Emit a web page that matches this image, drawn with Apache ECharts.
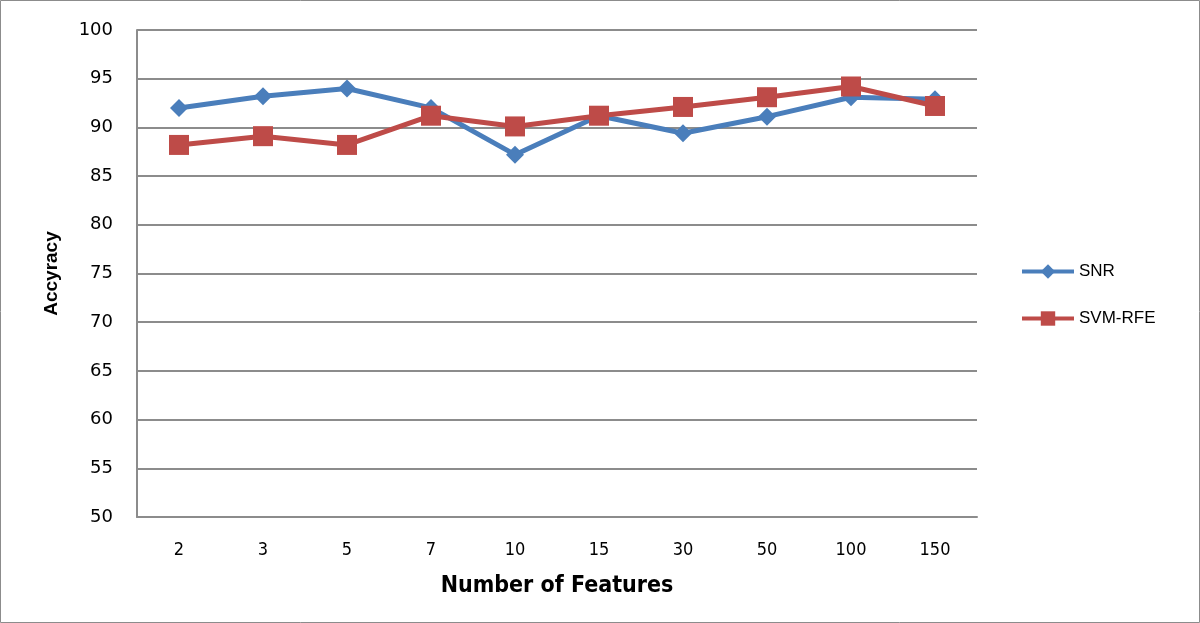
<!DOCTYPE html>
<html><head><meta charset="utf-8">
<script src="https://cdn.jsdelivr.net/npm/echarts@6/dist/echarts.min.js"></script>
<style>html,body{margin:0;padding:0;background:#fff}#c{width:1200px;height:623px}</style>
</head><body><div id="c"></div>
<script>
const categories = ['2','3','5','7','10','15','30','50','100','150'];
const snr = [92.0, 93.2, 94.0, 92.0, 87.2, 91.2, 89.4, 91.1, 93.1, 92.9];
const svmRfe = [88.2, 89.1, 88.2, 91.2, 90.1, 91.2, 92.1, 93.1, 94.2, 92.2];

const chart = echarts.init(document.getElementById('c'), null, {renderer:'canvas'});
chart.setOption({
  animation:false,
  backgroundColor:'#fff',
  graphic:[{type:'rect',shape:{x:0.5,y:0.5,width:1199,height:622},style:{fill:'none',stroke:'#8c8c8c',lineWidth:1}}],
  grid:{left:137,right:223,top:30,bottom:106},
  legend:{
    orient:'vertical',left:1015,top:258,itemGap:30,itemWidth:52,itemHeight:18,
    lineStyle:{width:4},
    textStyle:{fontFamily:'Liberation Sans, Arial',fontSize:17,color:'#000'},
    data:['SNR','SVM-RFE']
  },
  xAxis:{
    type:'category',data:categories,boundaryGap:true,
    name:'Number of Features',nameLocation:'middle',nameGap:58,
    nameTextStyle:{fontFamily:'DejaVu Sans Condensed, Liberation Sans',fontWeight:'bold',fontSize:23,color:'#000'},
    axisLine:{lineStyle:{color:'#8c8c8c',width:2}},
    axisTick:{show:false},
    axisLabel:{fontFamily:'DejaVu Sans Condensed, Liberation Sans',fontSize:18,color:'#000',margin:24}
  },
  yAxis:{
    type:'value',min:50,max:100,interval:5,
    name:'Accyracy',nameLocation:'middle',nameGap:76,
    nameTextStyle:{fontFamily:'Liberation Sans, Arial',fontWeight:'bold',fontSize:19,color:'#000'},
    axisLine:{show:true,lineStyle:{color:'#8c8c8c',width:2}},
    axisTick:{show:false},
    axisLabel:{fontFamily:'DejaVu Sans, Liberation Sans',fontSize:18,color:'#000',margin:24},
    splitLine:{lineStyle:{color:'#8c8c8c',width:2}}
  },
  series:[
    {name:'SNR',type:'line',data:snr,symbol:'diamond',symbolSize:18,
     lineStyle:{color:'#4a7ebb',width:5},itemStyle:{color:'#4a7ebb'},z:2},
    {name:'SVM-RFE',type:'line',data:svmRfe,symbol:'rect',symbolSize:20,
     lineStyle:{color:'#be4b48',width:5},itemStyle:{color:'#be4b48'},z:3}
  ]
});
</script></body></html>
